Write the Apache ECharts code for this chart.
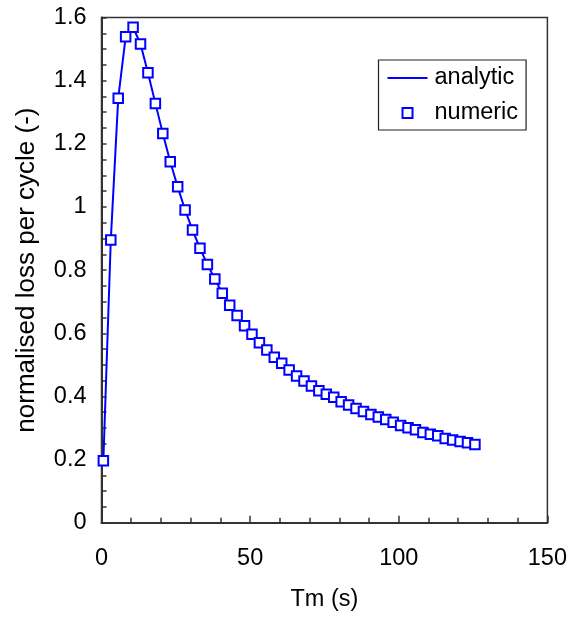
<!DOCTYPE html>
<html>
<head>
<meta charset="utf-8">
<script src="https://cdn.jsdelivr.net/npm/echarts@6/dist/echarts.min.js"></script>
<style>html,body{margin:0;padding:0;background:#fff}#c{width:570px;height:617px}</style>
</head>
<body>
<div id="c"></div>
<script>
var tm = [0.625,3.125,5.625,8.125,10.625,13.125,15.625,18.125,20.625,23.125,25.625,28.125,30.625,33.125,35.625,38.125,40.625,43.125,45.625,48.125,50.625,53.125,55.625,58.125,60.625,63.125,65.625,68.125,70.625,73.125,75.625,78.125,80.625,83.125,85.625,88.125,90.625,93.125,95.625,98.125,100.625,103.125,105.625,108.125,110.625,113.125,115.625,118.125,120.625,123.125,125.625];
var loss = [0.196,0.895,1.344,1.539,1.569,1.516,1.425,1.328,1.233,1.143,1.064,0.990,0.927,0.869,0.818,0.772,0.727,0.689,0.656,0.624,0.597,0.570,0.547,0.524,0.505,0.484,0.465,0.449,0.433,0.418,0.407,0.397,0.383,0.373,0.362,0.352,0.343,0.335,0.327,0.318,0.308,0.301,0.294,0.286,0.280,0.275,0.267,0.262,0.257,0.253,0.248];
var seriesNames = ['analytic','numeric'];
var xTitle = 'Tm (s)';
var yTitle = 'normalised loss per cycle (-)';

var pts = tm.map(function(t,i){return [t, loss[i]];});
var font = '"Liberation Sans", Arial, sans-serif';
var blue = '#0000ff';
var chart = echarts.init(document.getElementById('c'), null, {renderer:'canvas'});
chart.setOption({
  animation:false,
  backgroundColor:'#fff',
  grid:{left:101.5, right:22.5, top:17.5, bottom:94.3, show:true, borderColor:'#333', borderWidth:1.5, backgroundColor:'transparent'},
  legend:{
    left:378.5, top:60, orient:'vertical', itemWidth:40, itemHeight:10, itemGap:11,
    padding:[6,8,5,9], borderColor:'#222', borderWidth:1.2, symbolKeepAspect:true,
    textStyle:{fontFamily:font, fontSize:23.5, color:'#000', padding:[0,0,0,2]},
    data:[
      {name:seriesNames[0], icon:'path://M0,0H40V2H0Z', itemStyle:{color:blue, borderWidth:0}},
      {name:seriesNames[1], icon:'path://M0,0H10V10H0Z', itemStyle:{color:'#fff', borderColor:blue, borderWidth:2}}
    ]
  },
  xAxis:{
    type:'value', min:0, max:150, interval:50,
    name:xTitle, nameLocation:'middle', nameGap:65,
    nameTextStyle:{fontFamily:font, fontSize:23.5, color:'#000'},
    axisLine:{lineStyle:{color:'#333', width:2}},
    axisTick:{inside:true, length:7, lineStyle:{color:'#333', width:1.5}},
    minorTick:{show:true, splitNumber:5, length:5, lineStyle:{color:'#333', width:1.5}},
    splitLine:{show:false},
    axisLabel:{fontFamily:font, fontSize:23.5, color:'#000', margin:23.5}
  },
  yAxis:{
    type:'value', min:0, max:1.6, interval:0.2,
    name:yTitle, nameLocation:'middle', nameGap:62,
    nameTextStyle:{fontFamily:font, fontSize:26, color:'#000'},
    axisLine:{lineStyle:{color:'#333', width:2}},
    axisTick:{inside:true, length:5, lineStyle:{color:'#333', width:1.5}},
    minorTick:{show:true, splitNumber:4, length:5, lineStyle:{color:'#333', width:1.5}},
    splitLine:{show:false},
    axisLabel:{fontFamily:font, fontSize:23.5, color:'#000', margin:15}
  },
  series:[
    {name:seriesNames[0], type:'line', data:pts, symbol:'none', showSymbol:false,
     lineStyle:{color:blue, width:2}, itemStyle:{color:blue}, z:2},
    {name:seriesNames[1], type:'scatter', data:pts, symbol:'rect', symbolSize:9.5,
     itemStyle:{color:'#ffffff', borderColor:blue, borderWidth:2, opacity:1}, z:3}
  ]
});
</script>
</body>
</html>
